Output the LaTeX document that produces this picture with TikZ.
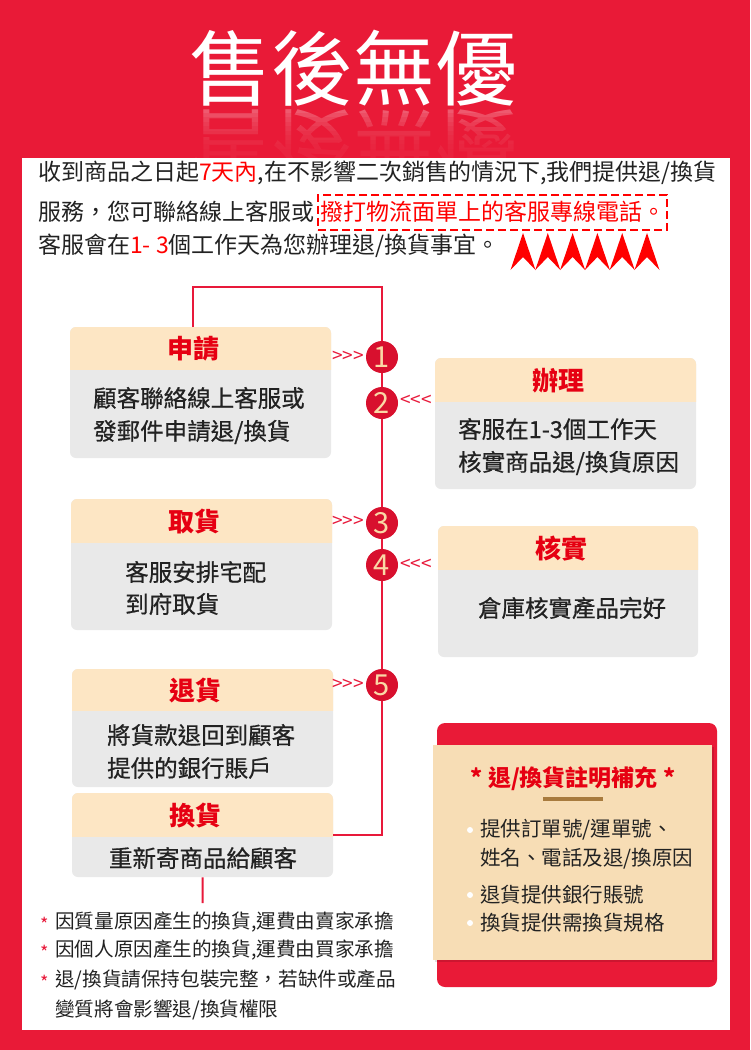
\documentclass[tikz,border=0pt]{standalone}
\usepackage{fontspec}
\setmainfont{Noto Sans CJK TC}
\newfontfamily\medfont{Noto Sans CJK TC}[FakeBold=0.6]
\definecolor{bgred}{HTML}{E91A37}
\definecolor{txt}{HTML}{222222}
\definecolor{hred}{HTML}{E60012}
\definecolor{brightred}{HTML}{FF0000}
\definecolor{cardpeach}{HTML}{FDE6C4}
\definecolor{cardgray}{HTML}{E9E9E9}
\definecolor{circred}{HTML}{D8102E}
\definecolor{digit}{HTML}{FAD9A6}
\definecolor{linered}{HTML}{E8193A}
\definecolor{beige}{HTML}{F7DDB5}
\definecolor{brown}{HTML}{A87B3E}
\newcommand\fsz[1]{\fontsize{#1pt}{#1pt}\selectfont}
\newcommand\stepcard[7]{%
  \fill[cardgray, rounded corners=6pt] (#2,#3) rectangle (#4,#6);
  \begin{scope}
    \clip (#2,#3) rectangle (#4,#5);
    \fill[cardpeach, rounded corners=6pt] (#2,#3) rectangle (#4,#6);
  \end{scope}
  \node[inner sep=0pt, minimum width={(#4-#2)*1pt}, minimum height={(#6-#3)*1pt}, anchor=north west] (#1) at (#2,#3) {};
  \node[hdr] (#1h) at ({(#2+#4)/2-7},{(#3+#5)/2+1}) {#7};
}
\begin{document}
\begin{tikzpicture}[x=1pt,y=-1pt,
  flow/.style={draw=linered, line width=2pt},
  hdr/.style={font=\fsz{26}\bfseries, text=hred, inner sep=0pt},
  body/.style={font=\medfont\fsz{23.5}, text=txt, anchor=west, inner sep=0pt},
  para/.style={font=\fsz{23}, text=txt, anchor=west, inner sep=0pt},
  num/.style={circle, fill=circred, text=digit, minimum size=32pt, inner sep=0pt, font=\fsz{29}},
  chev/.style={font=\fsz{19}, text=linered, inner sep=0pt},
  note/.style={font=\fsz{19.6}, text=txt, anchor=west, inner sep=0pt},
  star/.style={font=\fsz{18}, text=linered, inner sep=0pt},
  item/.style={font=\fsz{20.5}, text=txt, anchor=west, inner sep=0pt},
  dot/.style={circle, fill=white, inner sep=0pt, minimum size=6pt}]
\useasboundingbox (0,0) rectangle (750,1050);
\fill[bgred] (0,0) rectangle (750,1050);
% title and reflection
\node[white, font=\fsz{82}, inner sep=0pt] (title) at (353,68) {售後無優};
\node[white, opacity=0.35, font=\fsz{82}, inner sep=0pt, yscale=-1, transform shape] (titlerefl) at (353,148) {售後無優};
\foreach \k in {0,...,9}
  \fill[bgred, opacity=0.18] (150,108+4.5*\k) rectangle (560,158);
% white panel
\fill[white] (22,158) rectangle (730,1030);
% paragraph
\node[para] (p1) at (38,173) {收到商品之日起{\color{brightred}7天內},在不影響二次銷售的情況下,我們提供退/換貨};
\node[para] (p2a) at (38,212) {服務，您可聯絡線上客服或};
\node[font=\fsz{23}, text=brightred, draw=brightred, line width=2pt, dash pattern=on 8pt off 4pt,
      anchor=west, inner xsep=2pt, inner ysep=0pt, minimum height=35pt] (p2b) at ([xshift=3pt]p2a.east) {撥打物流面單上的客服專線電話。};
\node[para] (p3) at (38,246) {客服會在{\color{brightred}1- 3}個工作天為您辦理退/換貨事宜。};
\foreach \cx in {523,547.8,572.6,597.4,622.2,647}
  \fill[brightred] (\cx,233) -- (\cx+12.5,270) -- (\cx,257) -- (\cx-12.5,270) -- cycle;
% cards
\stepcard{b1}{70}{327}{331}{369}{458}{申請}
\stepcard{b2}{435}{358}{696}{401}{489}{辦理}
\stepcard{b3}{71}{499}{332}{542}{630}{取貨}
\stepcard{b4}{438}{526}{698}{569}{657}{核實}
\stepcard{b5}{72}{669}{333}{710}{787}{退貨}
\stepcard{b6}{72}{793}{333}{836}{877}{換貨}
\node[body] (t1a) at (93,398) {顧客聯絡線上客服或};
\node[body] (t1b) at (93,432) {發郵件申請退/換貨};
\node[body] (t2a) at (458,429) {客服在1-3個工作天};
\node[body] (t2b) at (458,463) {核實商品退/換貨原因};
\node[body] (t3a) at (125,572) {客服安排宅配};
\node[body] (t3b) at (125,604) {到府取貨};
\node[body, anchor=center] (t4) at (572,608) {倉庫核實產品完好};
\node[body] (t5a) at (107,735) {將貨款退回到顧客};
\node[body] (t5b) at (107,768) {提供的銀行賬戶};
\node[body, anchor=center] (t6) at (203,858) {重新寄商品給顧客};
% numbered circles
\node[num] (c1) at (382,357) {1};
\node[num] (c2) at (382,403) {2};
\node[num] (c3) at (382,523) {3};
\node[num] (c4) at (382,565) {4};
\node[num] (c5) at (382,685) {5};
% flow line
\coordinate (tl) at (193,287);
\coordinate (nt) at (202.5,903);
\draw[flow] (b1.north -| tl) -- (tl) -| (c1.north);
\draw[flow] (c1.south) -- (c2.north);
\draw[flow] (c2.south) -- (c3.north);
\draw[flow] (c3.south) -- (c4.north);
\draw[flow] (c4.south) -- (c5.north);
\draw[flow] (c5.south) |- (b6.east);
\draw[flow] (b6.south) -- (nt);
% chevrons
\node[chev] (a1) at (348,357) {{>}{>}{>}};
\node[chev] (a2) at (416,401) {{<}{<}{<}};
\node[chev] (a3) at (348,522) {{>}{>}{>}};
\node[chev] (a4) at (416,565) {{<}{<}{<}};
\node[chev] (a5) at (348,685) {{>}{>}{>}};
% notes
\node[star] (s1) at (45,924) {*};
\node[note] (n1) at (55,922) {因質量原因產生的換貨,運費由賣家承擔};
\node[star] (s2) at (45,952) {*};
\node[note] (n2) at (55,950) {因個人原因產生的換貨,運費由買家承擔};
\node[star] (s3) at (45,982) {*};
\node[note] (n3) at (55,980) {退/換貨請保持包裝完整，若缺件或產品};
\node[note] (n4) at (55,1010) {變質將會影響退/換貨權限};
% info box
\fill[bgred, rounded corners=8pt] (437,723) rectangle (717,987);
\fill[black, opacity=0.12] (435,747) rectangle (714,962);
\fill[beige] (433,745) rectangle (712,960);
\node[font=\fsz{23}\bfseries, text=hred, inner sep=0pt] (ititle) at (573,779) {* 退/換貨註明補充 *};
\draw[brown, line width=4pt] (543,799) -- (603,799);
\node[dot] (d1) at (470,830) {};
\node[item] (i1) at (480,830) {提供訂單號/運單號、};
\node[item] (i2) at (480,859) {姓名、電話及退/換原因};
\node[dot] (d3) at (470,895) {};
\node[item] (i3) at (480,895) {退貨提供銀行賬號};
\node[dot] (d4) at (470,923) {};
\node[item] (i4) at (480,923) {換貨提供需換貨規格};
\end{tikzpicture}
\end{document}
